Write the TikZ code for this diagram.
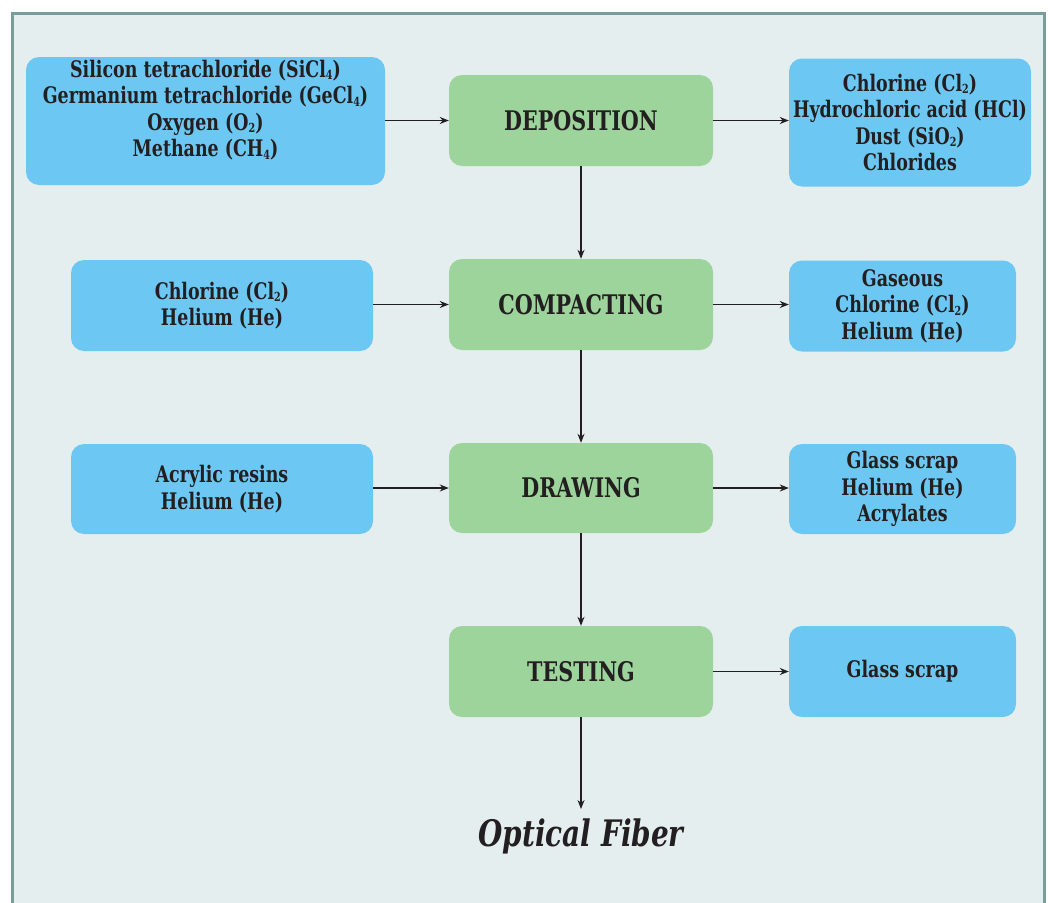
\documentclass[tikz,border=0pt]{standalone}
\usepackage{fontspec}
\setmainfont{DejaVu Serif Condensed}[FakeStretch=0.85]
\usetikzlibrary{arrows.meta}
\definecolor{bgc}{HTML}{E5EEEE}
\definecolor{framec}{HTML}{7A9C9A}
\definecolor{bluec}{HTML}{6CC8F2}
\definecolor{greenc}{HTML}{9DD49C}
\definecolor{txtc}{HTML}{231F20}
\tikzset{
  inbox/.style={fill=bluec, draw=none, rounded corners=13pt, inner sep=0pt},
  stepbox/.style={fill=greenc, draw=none, rounded corners=13pt, inner sep=0pt, minimum width=264pt,
     font=\fontsize{27}{30}\selectfont\bfseries, text=txtc},
  boxtext/.style={align=center, font=\fontsize{22.8}{26.5}\selectfont\bfseries, text=txtc, inner sep=0pt},
  flow/.style={draw=txtc, line width=1.3pt, -{Stealth[length=9pt,width=7pt]}},
}
\newcommand{\sbs}[1]{\raisebox{-0.12em}{\fontsize{12.5}{12.5}\selectfont #1}}
\begin{document}
\begin{tikzpicture}[x=1pt,y=-1pt]
\useasboundingbox (0,0) rectangle (1048,902);
\fill[white] (0,0) rectangle (1048,902);
\draw[framec, line width=3pt, fill=bgc] (12.5,13.5) rectangle (1044.5,910);
% left inputs
\node[inbox, minimum width=359pt, minimum height=128pt] (L1) at (205.5,121) {};
\node[boxtext] (L1t) at (205.5,110) {Silicon tetrachloride (SiCl\sbs{4})\\Germanium tetrachloride (GeCl\sbs{4})\\Oxygen (O\sbs{2})\\Methane (CH\sbs{4})};
\node[inbox, minimum width=302pt, minimum height=91pt, boxtext] (L2) at (222,305.5) {Chlorine (Cl\sbs{2})\\Helium (He)};
\node[inbox, minimum width=302pt, minimum height=90pt, boxtext] (L3) at (222,489) {Acrylic resins\\Helium (He)};
% steps
\node[stepbox, minimum height=91pt] (M1) at (581,120.5) {DEPOSITION};
\node[stepbox, minimum height=91pt] (M2) at (581,304.5) {COMPACTING};
\node[stepbox, minimum height=90pt] (M3) at (581,488) {DRAWING};
\node[stepbox, minimum height=91pt] (M4) at (581,671.5) {TESTING};
% outputs
\node[inbox, minimum width=242pt, minimum height=128pt, boxtext] (R1) at (910,122.5) {Chlorine (Cl\sbs{2})\\Hydrochloric acid (HCl)\\Dust (SiO\sbs{2})\\Chlorides};
\node[inbox, minimum width=227pt, minimum height=91pt, boxtext] (R2) at (902.5,306) {Gaseous\\Chlorine (Cl\sbs{2})\\Helium (He)};
\node[inbox, minimum width=227pt, minimum height=90pt, boxtext] (R3) at (902.5,489) {Glass scrap\\Helium (He)\\Acrylates};
\node[inbox, minimum width=227pt, minimum height=91pt, boxtext] (R4) at (902.5,671.5) {Glass scrap};
\node[text=txtc, font=\fontsize{36.5}{40}\selectfont\bfseries\itshape] (OF) at (581,836) {Optical Fiber};
\coordinate (OFin) at (581,809);
% arrows
\draw[flow] (L1.east |- M1.west) -- (M1.west);
\draw[flow] (L2.east |- M2.west) -- (M2.west);
\draw[flow] (L3.east |- M3.west) -- (M3.west);
\draw[flow] (M1.east) -- (M1.east -| R1.west);
\draw[flow] (M2.east) -- (M2.east -| R2.west);
\draw[flow] (M3.east) -- (M3.east -| R3.west);
\draw[flow] (M4.east) -- (M4.east -| R4.west);
\draw[flow] (M1.south) -- (M2.north);
\draw[flow] (M2.south) -- (M3.north);
\draw[flow] (M3.south) -- (M4.north);
\draw[flow] (M4.south) -- (OFin);
\end{tikzpicture}
\end{document}
